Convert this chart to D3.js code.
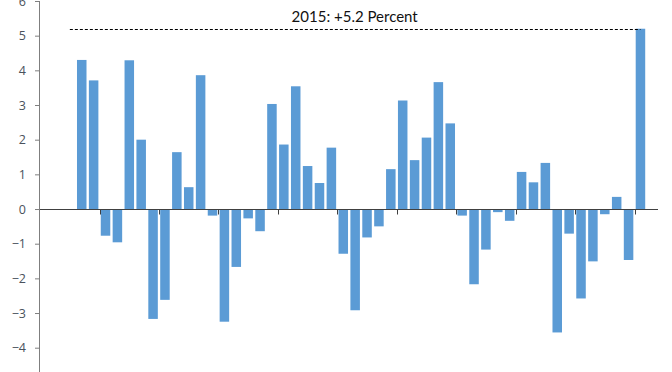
<!DOCTYPE html>
<html>
<head>
<meta charset="utf-8">
<script src="https://cdn.jsdelivr.net/npm/d3@7"></script>
<style>
  html, body { margin: 0; padding: 0; background: #fff; }
  svg { display: block; }
  .tick text { font-family: "Open Sans", sans-serif; font-size: 12.5px; fill: #4a525c; }
  .note { font-family: Lato, "Open Sans", sans-serif; font-size: 15px; fill: #111; }
</style>
</head>
<body>
<div id="chart"></div>
<script>
// ── data: annual change, percent, 1968–2015
const years = d3.range(1968, 2016);
const values = [
  4.30, 3.71, -0.77, -0.96, 4.29, 2.00, -3.17, -2.62, 1.64, 0.63,
  3.86, -0.19, -3.25, -1.67, -0.27, -0.64, 3.03, 1.86, 3.54, 1.24,
  0.75, 1.77, -1.29, -2.92, -0.82, -0.50, 1.15, 3.13, 1.41, 2.06,
  3.66, 2.47, -0.19, -2.17, -1.17, -0.09, -0.34, 1.07, 0.77, 1.33,
  -3.56, -0.71, -2.58, -1.51, -0.15, 0.35, -1.47, 5.20
];
const yTicks = [-4, -3, -2, -1, 0, 1, 2, 3, 4, 5, 6];
const noteYear = 2015;
const noteValue = 5.2;
const noteLabel = '2015: +5.2 Percent';

const W = 672, H = 372;
const axisX = 40;          // y axis position
const plotRight = 658;     // end of the zero line

const svg = d3.select('#chart').append('svg')
  .attr('width', W)
  .attr('height', H);

// ── scales ──────────────────────────────────────────────────────────────────
// the picture is cropped: 6 sits at the very top, the axis runs off the bottom
const y = d3.scaleLinear()
  .domain([-5, 6])
  .range([1 + 11 * 34.67, 1]);

const x = d3.scaleBand()
  .domain(years)
  .range([75.8, 646.4])
  .paddingInner(0.2)
  .paddingOuter(0.1);

const step = x.step();
const color = '#5b9bd5';

// ── bars ────────────────────────────────────────────────────────────────────
svg.append('g')
  .selectAll('rect')
  .data(years.map((yr, i) => ({ yr, v: values[i] })))
  .join('rect')
    .attr('x', d => x(d.yr))
    .attr('width', x.bandwidth())
    .attr('y', d => y(Math.max(0, d.v)))
    .attr('height', d => Math.abs(y(d.v) - y(0)))
    .attr('fill', color);

// ── y axis ──────────────────────────────────────────────────────────────────
svg.append('g')
  .attr('transform', `translate(${axisX},0)`)
  .call(d3.axisLeft(y).tickValues(yTicks).tickSize(5).tickPadding(9).tickFormat(d3.format('d')))
  .call(g => g.select('.domain').attr('stroke', '#7f7f7f').attr('d', `M-0.5,${y(6)}V${H + 20}`))
  .call(g => g.selectAll('.tick line').attr('stroke', '#7f7f7f'));

// ── zero line with ticks at every 5th year boundary ────────────────────────
const zx = svg.append('g').attr('transform', `translate(0,${Math.round(y(0)) + 0.5})`);
zx.append('line')
  .attr('x1', axisX).attr('x2', plotRight)
  .attr('stroke', '#404040');
zx.selectAll('.xt')
  .data(years.filter(yr => yr % 5 === 0))
  .join('line')
    .attr('class', 'xt')
    .attr('x1', d => Math.round(x(d) - step * 0.1) + 0.5)
    .attr('x2', d => Math.round(x(d) - step * 0.1) + 0.5)
    .attr('y1', 0).attr('y2', 5)
    .attr('stroke', '#404040');

// ── 2015 reference line + label ─────────────────────────────────────────────
const refY = Math.round(y(noteValue)) + 0.5;
svg.append('line')
  .attr('x1', x(years[0]) + x.bandwidth() / 2 - step)
  .attr('x2', x(noteYear) + x.bandwidth() / 2)
  .attr('y1', refY).attr('y2', refY)
  .attr('stroke', '#000')
  .attr('stroke-dasharray', '3,2');

svg.append('text')
  .attr('class', 'note')
  .attr('x', 354.7)
  .attr('y', refY - 8)
  .attr('text-anchor', 'middle')
  .text(noteLabel);
</script>
</body>
</html>
